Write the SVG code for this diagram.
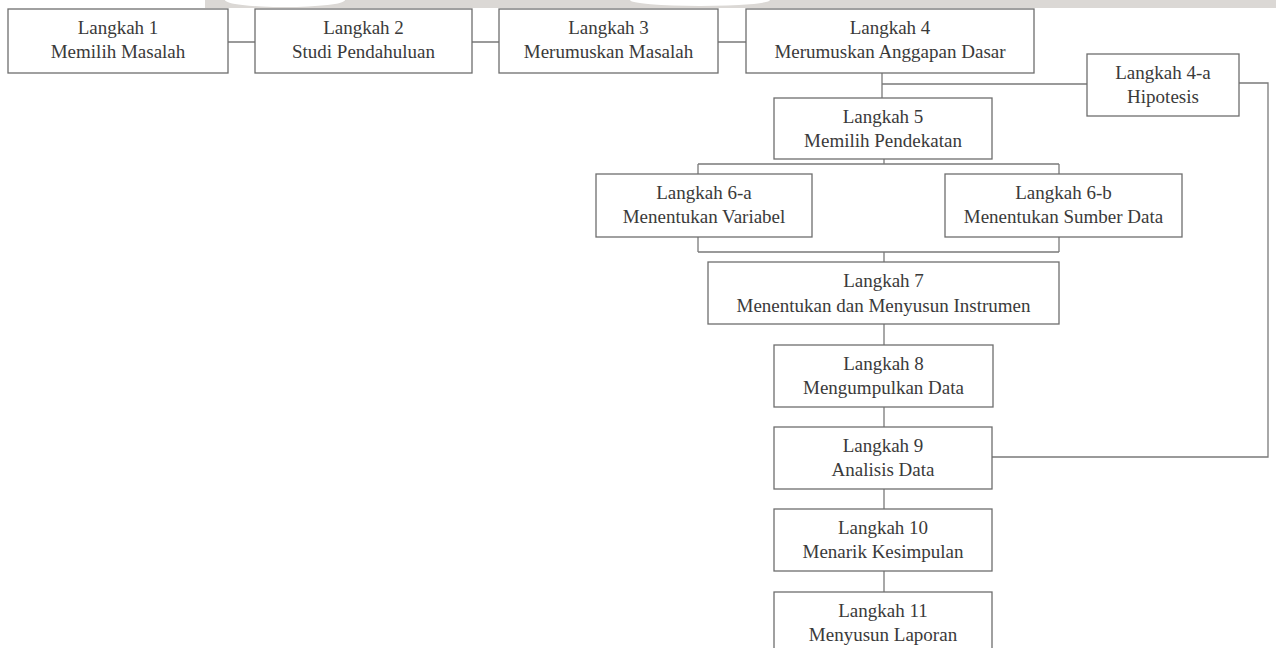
<svg xmlns="http://www.w3.org/2000/svg" width="1276" height="648" viewBox="0 0 1276 648">
<style>
.box{fill:#fff;stroke:#6e6e6e;stroke-width:1.3}
.ln{fill:none;stroke:#7a7a7a;stroke-width:1.3}
text{font-family:"Liberation Serif","Times New Roman",serif;font-size:19px;fill:#3a3a3a;text-anchor:middle}
</style>
<rect width="1276" height="648" fill="#fff"/>
<g id="watermark">
<rect x="205" y="0" width="1071" height="8" fill="#dbd8d5"/>
<ellipse cx="285" cy="0" rx="60" ry="7" fill="#fff"/>
<ellipse cx="700" cy="0" rx="70" ry="6" fill="#fff"/>
</g>
<g id="connectors">
<path class="ln" d="M228 42H255M472 42H499M718 42H746"/>
<path class="ln" d="M882 73V98M882 84H1087"/>
<path class="ln" d="M1239 83H1268V457H992"/>
<path class="ln" d="M884 159V164M698 164H1059M698 164V174M1059 164V174"/>
<path class="ln" d="M698 237V252M1059 237V252M698 252H1059M884 252V262"/>
<path class="ln" d="M884 324V345M884 407V427M884 489V509M884 571V592"/>
</g>
<g id="n1"><rect class="box" x="8" y="9" width="220" height="64"/><text x="118" y="34">Langkah 1</text><text x="118" y="58">Memilih Masalah</text></g>
<g id="n2"><rect class="box" x="255" y="9" width="217" height="64"/><text x="363.5" y="34">Langkah 2</text><text x="363.5" y="58">Studi Pendahuluan</text></g>
<g id="n3"><rect class="box" x="499" y="9" width="219" height="64"/><text x="608.5" y="34">Langkah 3</text><text x="608.5" y="58">Merumuskan Masalah</text></g>
<g id="n4"><rect class="box" x="746" y="9" width="288" height="64"/><text x="890" y="34">Langkah 4</text><text x="890" y="58">Merumuskan Anggapan Dasar</text></g>
<g id="n4a"><rect class="box" x="1087" y="54" width="152" height="62"/><text x="1163" y="79">Langkah 4-a</text><text x="1163" y="103">Hipotesis</text></g>
<g id="n5"><rect class="box" x="774" y="98" width="218" height="61"/><text x="883" y="123">Langkah 5</text><text x="883" y="147">Memilih Pendekatan</text></g>
<g id="n6a"><rect class="box" x="596" y="174" width="216" height="63"/><text x="704" y="199">Langkah 6-a</text><text x="704" y="223">Menentukan Variabel</text></g>
<g id="n6b"><rect class="box" x="945" y="174" width="237" height="63"/><text x="1063.5" y="199">Langkah 6-b</text><text x="1063.5" y="223">Menentukan Sumber Data</text></g>
<g id="n7"><rect class="box" x="708" y="262" width="351" height="62"/><text x="883.5" y="287">Langkah 7</text><text x="883.5" y="312">Menentukan dan Menyusun Instrumen</text></g>
<g id="n8"><rect class="box" x="774" y="345" width="219" height="62"/><text x="883.5" y="370">Langkah 8</text><text x="883.5" y="394">Mengumpulkan Data</text></g>
<g id="n9"><rect class="box" x="774" y="427" width="218" height="62"/><text x="883" y="452">Langkah 9</text><text x="883" y="476">Analisis Data</text></g>
<g id="n10"><rect class="box" x="774" y="509" width="218" height="62"/><text x="883" y="534">Langkah 10</text><text x="883" y="558">Menarik Kesimpulan</text></g>
<g id="n11"><rect class="box" x="774" y="592" width="218" height="64"/><text x="883" y="617">Langkah 11</text><text x="883" y="641">Menyusun Laporan</text></g>
</svg>
